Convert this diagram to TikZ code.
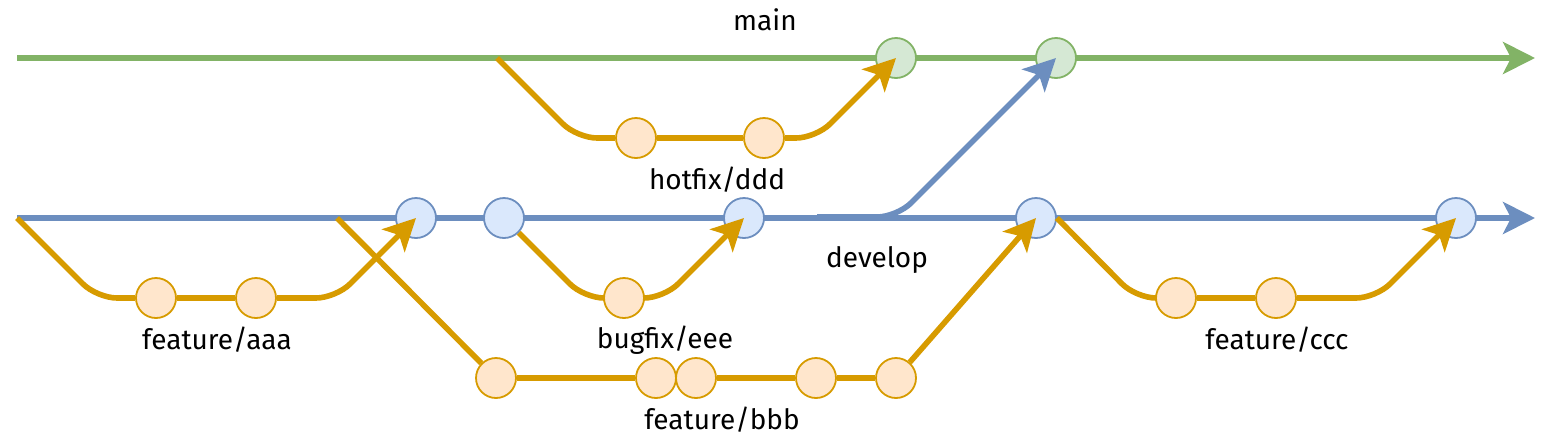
\documentclass[tikz,border=0pt]{standalone}
\usepackage{fontspec}
\setmainfont{Fira Sans}
\usetikzlibrary{arrows.meta}

\definecolor{mainline}{HTML}{82B366}
\definecolor{mainfill}{HTML}{D5E8D4}
\definecolor{devline}{HTML}{6C8EBF}
\definecolor{devfill}{HTML}{DAE8FC}
\definecolor{topicline}{HTML}{D79B00}
\definecolor{topicfill}{HTML}{FFE6CC}

\begin{document}
\begin{tikzpicture}[
    x=0.5pt, y=-0.5pt,
    commit/.style={circle, inner sep=0pt, minimum size=20pt, line width=0.9pt},
    main commit/.style={commit, draw=mainline, fill=mainfill},
    dev commit/.style={commit, draw=devline, fill=devfill},
    topic commit/.style={commit, draw=topicline, fill=topicfill},
    head/.style={-{Stealth[length=16pt, width=16pt, inset=4pt]}},
    trunk/.style={draw=#1, line width=2.8pt, head},
    branch/.style={draw=#1, line width=2.8pt, rounded corners=10pt},
    branch/.default=topicline,
    label text/.style={font=\fontsize{14}{16}\selectfont, inner sep=0pt}
]
\useasboundingbox (0,0) rectangle (1556,440);

% Trunk lines
\coordinate (main start) at (17,58);
\coordinate (main end) at (1535,58);
\coordinate (dev start) at (17,218);
\coordinate (dev end) at (1535,218);
\draw[trunk=mainline] (main start) -- (main end);
\draw[trunk=devline] (dev start) -- (dev end);

% Branch points
\coordinate (hotfix start) at (497,58);
\coordinate (bbb start) at (337,218);
\coordinate (release start) at (817,217);

% Commits on main
\node[main commit] (m1) at (896,58) {};
\node[main commit] (m2) at (1056,58) {};

% Commits on develop
\node[dev commit] (d1) at (416,218) {};
\node[dev commit] (d2) at (504,218) {};
\node[dev commit] (d3) at (744,218) {};
\node[dev commit] (d4) at (1036,218) {};
\node[dev commit] (d5) at (1456,218) {};

% Commits on topic branches
\node[topic commit] (a1) at (156,298) {};
\node[topic commit] (a2) at (256,298) {};
\node[topic commit] (h1) at (636,138) {};
\node[topic commit] (h2) at (764,138) {};
\node[topic commit] (e1) at (624,298) {};
\node[topic commit] (b1) at (496,378) {};
\node[topic commit] (b2) at (656,378) {};
\node[topic commit] (b3) at (696,378) {};
\node[topic commit] (b4) at (816,378) {};
\node[topic commit] (b5) at (896,378) {};
\node[topic commit] (c1) at (1176,298) {};
\node[topic commit] (c2) at (1276,298) {};

% Branch paths
\draw[branch, head] (dev start) -- (97,298) -- (a1) -- (a2) -- (336,298) -- (d1.center);
\draw[branch, head] (hotfix start) -- (577,138) -- (h1) -- (h2) -- (816,138) -- (m1.center);
\draw[branch=devline, head] (release start) -- (897,217) -- (m2.center);
\draw[branch, head] (d2) -- (584,298) -- (e1) -- (664,298) -- (d3.center);
\draw[branch] (bbb start) -- (b1);
\draw[branch] (b1) -- (b2);
\draw[branch] (b3) -- (b4) -- (b5);
\draw[branch, head] (b5) -- (d4.center);
\draw[branch, head] (d4.east) -- (1136,298) -- (c1) -- (c2) -- (1376,298) -- (d5.center);

% Labels
\node[label text] (main label) at (765,20) {main};
\node[label text] (hotfix label) at (717,180) {hotfix/ddd};
\node[label text] (develop label) at (877,260) {develop};
\node[label text] (aaa label) at (217,340) {feature/aaa};
\node[label text] (eee label) at (665,340) {bugfix/eee};
\node[label text] (bbb label) at (722,420) {feature/bbb};
\node[label text] (ccc label) at (1277,340) {feature/ccc};

\end{tikzpicture}
\end{document}
